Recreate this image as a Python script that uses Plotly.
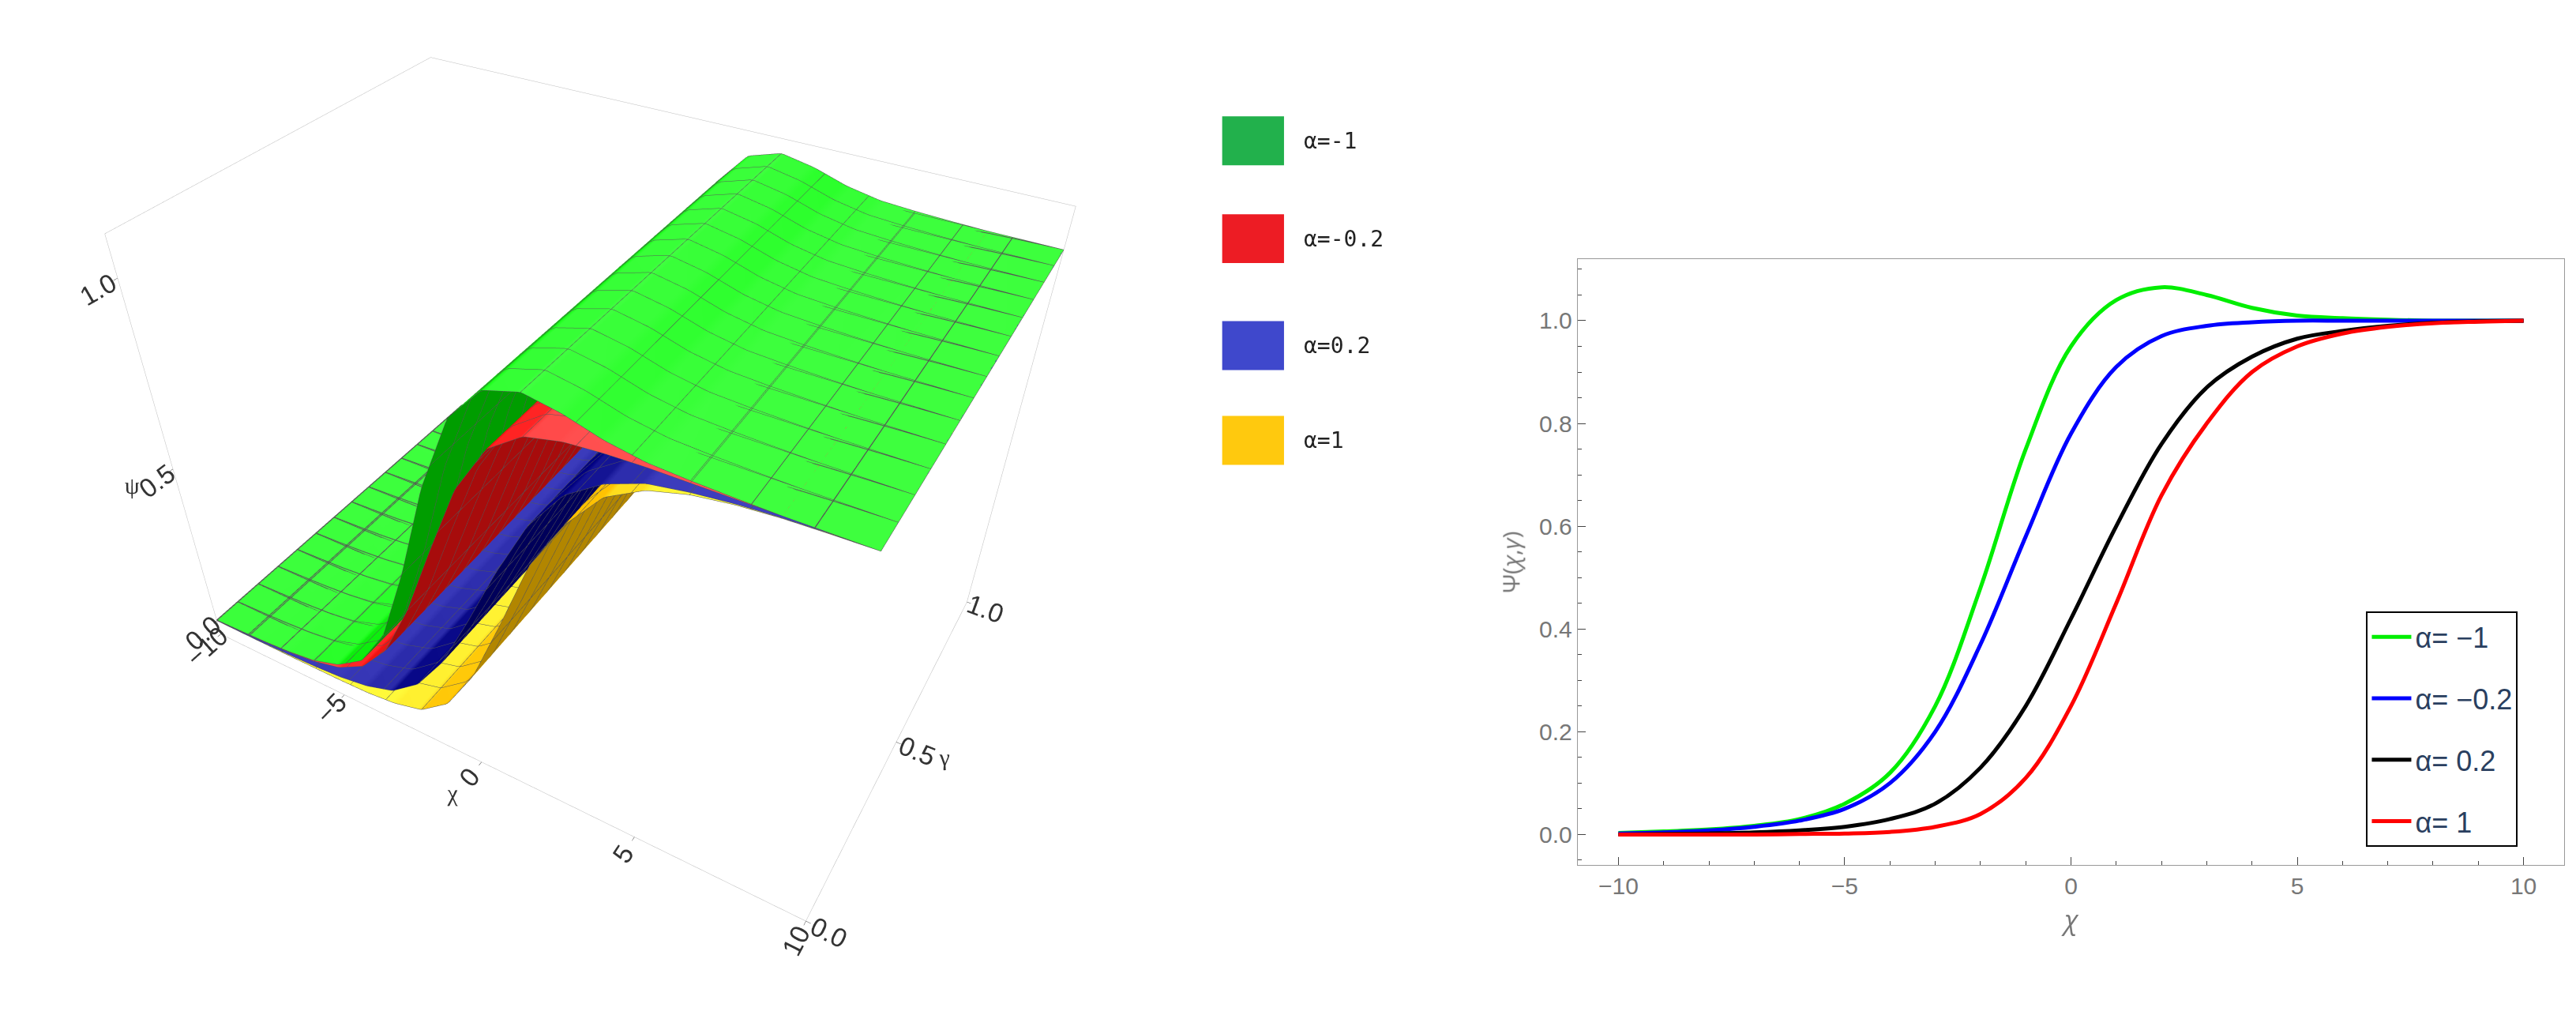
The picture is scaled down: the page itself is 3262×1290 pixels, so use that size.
import plotly.graph_objects as go
import numpy as np

chi = [-10,-9,-8,-7,-6,-5,-4,-3,-2,-1,0,1,2,3,4,5,6,7,8,9,10]
psi_m1  = [0.003,0.006,0.01,0.017,0.03,0.06,0.12,0.25,0.48,0.75,0.95,1.04,1.065,1.05,1.025,1.01,1.005,1.002,1.0,1.0,1.0]
psi_m02 = [0.002,0.004,0.008,0.015,0.027,0.05,0.1,0.2,0.37,0.58,0.78,0.91,0.97,0.99,0.997,1.0,1.0,1.0,1.0,1.0,1.0]
psi_p02 = [0.0,0.001,0.002,0.004,0.008,0.015,0.03,0.06,0.13,0.25,0.42,0.6,0.76,0.87,0.93,0.965,0.98,0.99,0.996,0.999,1.0]
psi_p1  = [0.0,0.0,0.0,0.0,0.001,0.002,0.005,0.015,0.04,0.11,0.25,0.45,0.66,0.8,0.9,0.95,0.975,0.988,0.995,0.998,1.0]
gamma = [0.0,0.1,0.2,0.3,0.4,0.5,0.6,0.7,0.8,0.9,1.0]

labels3d = ["α=-1","α=-0.2","α=0.2","α=1"]
colors3d = ["#00e000","#ee1111","#000080","#ffc000"]
swatch = ["#22b14c","#ed1c24","#3f48cc","#ffc90e"]
labels2d = ["α= −1","α= −0.2","α= 0.2","α= 1"]
colors2d = ["#00ee00","#0000ff","#000000","#ff0000"]
series = [psi_m1, psi_m02, psi_p02, psi_p1]

fig = go.Figure()
for s, c in zip(series[::-1], colors3d[::-1]):
    Z = np.tile(np.array(s), (len(gamma), 1))
    fig.add_trace(go.Surface(x=chi, y=gamma, z=Z, colorscale=[[0,c],[1,c]], showscale=False,
        lighting=dict(ambient=0.7, diffuse=0.6, specular=0.2),
        contours=dict(x=dict(show=True, color="#555", width=2, start=-10, end=10, size=20/15),
                      y=dict(show=True, color="#555", width=2, start=0, end=1, size=1/14)),
        showlegend=False))

for i, (s, c, l) in enumerate(zip(series, colors2d, labels2d)):
    fig.add_trace(go.Scatter(x=chi, y=s, mode="lines", line=dict(color=c, width=5, shape="spline"),
                             name=l, legendgroup=str(i), xaxis="x", yaxis="y"))

tfont = dict(size=30, family="Liberation Serif", color="#333")
ax3 = dict(showbackground=False, showgrid=False, showline=True, linecolor="#bbb", mirror=True,
           ticks="outside", tickfont=dict(size=20, color="#333", family="Liberation Sans"))
fig.update_layout(
    width=3262, height=1290, paper_bgcolor="white", plot_bgcolor="white",
    margin=dict(l=0, r=0, t=0, b=0),
    scene=dict(domain=dict(x=[0, 0.46], y=[0, 1]),
               xaxis=dict(ax3, title=dict(text="χ", font=tfont), tickvals=[-10,-5,0,5,10], range=[-10,10]),
               yaxis=dict(ax3, title=dict(text="γ", font=tfont), tickvals=[0,0.5,1], ticktext=["0.0","0.5","1.0"], range=[0,1]),
               zaxis=dict(ax3, title=dict(text="ψ", font=tfont), tickvals=[0,0.5,1], ticktext=["0.0","0.5","1.0"], range=[-0.05,1.1]),
               aspectmode="manual", aspectratio=dict(x=1.5, y=1.0, z=1.05),
               camera=dict(eye=dict(x=1.05, y=-1.8, z=1.6), center=dict(x=0,y=0,z=-0.2))),
    xaxis=dict(domain=[0.61, 0.993], range=[-10.9, 10.9], tickvals=[-10,-5,0,5,10],
               ticktext=["−10","−5","0","5","10"], showline=True, mirror=True, linecolor="#999",
               ticks="inside", ticklen=10, minor=dict(ticks="inside", ticklen=5, dtick=1),
               showgrid=False, zeroline=False, tickfont=dict(size=30, color="#777", family="Liberation Sans"),
               title=dict(text="<i>χ</i>", font=dict(size=34, color="#777"))),
    yaxis=dict(domain=[0.157, 0.752], range=[-0.06, 1.12], tickvals=[0,0.2,0.4,0.6,0.8,1.0],
               tickformat=".1f", showline=True, mirror=True, linecolor="#999",
               ticks="inside", ticklen=10, minor=dict(ticks="inside", ticklen=5, dtick=0.05),
               showgrid=False, zeroline=False, tickfont=dict(size=30, color="#777", family="Liberation Sans"),
               title=dict(text="Ψ(<i>χ</i>,<i>γ</i>)", font=dict(size=30, color="#777"))),
    legend=dict(x=0.975, y=0.175, xanchor="right", yanchor="bottom", bordercolor="black", borderwidth=2,
                font=dict(size=36, family="Liberation Sans"), tracegroupgap=28, itemwidth=50, bgcolor="white"),
)
ys = [0.868, 0.772, 0.667, 0.574]
for y0, c, l in zip(ys, swatch, labels3d):
    fig.add_shape(type="rect", xref="paper", yref="paper", x0=0.472, x1=0.496, y0=y0-0.024, y1=y0+0.024,
                  fillcolor=c, line=dict(width=0))
    fig.add_annotation(x=0.503, y=y0, xref="paper", yref="paper", text=l, showarrow=False,
                       xanchor="left", yanchor="middle",
                       font=dict(size=28, family="DejaVu Sans Mono", color="#222"))
fig.write_html("out.html")
